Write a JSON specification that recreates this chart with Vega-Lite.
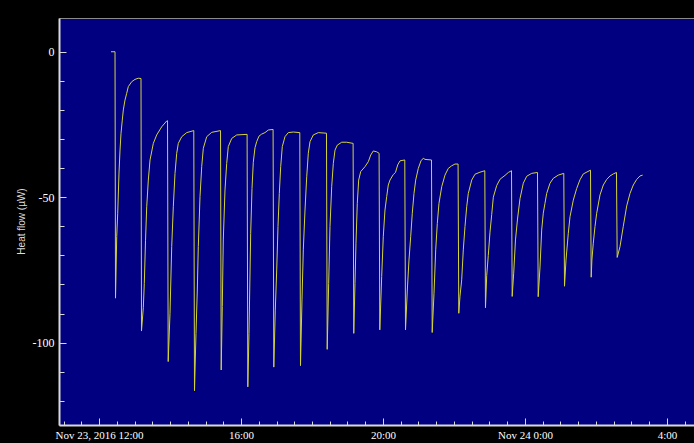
{
  "$schema": "https://vega.github.io/schema/vega-lite/v6.json",
  "width": 635,
  "height": 407,
  "autosize": {"type": "none"},
  "padding": {"left": 59, "top": 18, "right": 0, "bottom": 18},
  "background": "#000000",
  "config": {"view": {"fill": "#000080", "stroke": "#8a8a8a", "strokeWidth": 1}},
  "data": {"values": [
    {"hour": 12.338, "heat_flow": 0}, {"hour": 12.451, "heat_flow": 0}, {"hour": 12.465, "heat_flow": -84.7}, {"hour": 12.499, "heat_flow": -63.5}, {"hour": 12.527, "heat_flow": -55.5}, {"hour": 12.563, "heat_flow": -41.7}, {"hour": 12.592, "heat_flow": -33.8}, {"hour": 12.620, "heat_flow": -28}, {"hour": 12.656, "heat_flow": -23.5}, {"hour": 12.685, "heat_flow": -20}, {"hour": 12.732, "heat_flow": -16.6}, {"hour": 12.780, "heat_flow": -14.3}, {"hour": 12.825, "heat_flow": -12}, {"hour": 12.921, "heat_flow": -10.3}, {"hour": 13.014, "heat_flow": -9.5}, {"hour": 13.107, "heat_flow": -9.1}, {"hour": 13.183, "heat_flow": -9.2},
    {"hour": 13.197, "heat_flow": -96}, {"hour": 13.248, "heat_flow": -88}, {"hour": 13.276, "heat_flow": -79.6}, {"hour": 13.310, "heat_flow": -65}, {"hour": 13.344, "heat_flow": -53.3}, {"hour": 13.389, "heat_flow": -44.1}, {"hour": 13.437, "heat_flow": -37.2}, {"hour": 13.530, "heat_flow": -31.5}, {"hour": 13.625, "heat_flow": -28.6}, {"hour": 13.766, "heat_flow": -25.8}, {"hour": 13.907, "heat_flow": -23.8}, {"hour": 13.930, "heat_flow": -23.7},
    {"hour": 13.949, "heat_flow": -106.5}, {"hour": 14.000, "heat_flow": -89.9}, {"hour": 14.048, "heat_flow": -67}, {"hour": 14.093, "heat_flow": -53.3}, {"hour": 14.141, "heat_flow": -41.8}, {"hour": 14.189, "heat_flow": -34.9}, {"hour": 14.234, "heat_flow": -31.5}, {"hour": 14.330, "heat_flow": -29.2}, {"hour": 14.470, "heat_flow": -27.8}, {"hour": 14.670, "heat_flow": -27.1},
    {"hour": 14.690, "heat_flow": -116.5}, {"hour": 14.732, "heat_flow": -96.8}, {"hour": 14.769, "heat_flow": -81.9}, {"hour": 14.797, "heat_flow": -67}, {"hour": 14.845, "heat_flow": -49.8}, {"hour": 14.893, "heat_flow": -39.5}, {"hour": 14.938, "heat_flow": -33.2}, {"hour": 15.034, "heat_flow": -29.2}, {"hour": 15.175, "heat_flow": -27.7}, {"hour": 15.423, "heat_flow": -27.1},
    {"hour": 15.442, "heat_flow": -109.4}, {"hour": 15.473, "heat_flow": -87.6}, {"hour": 15.501, "heat_flow": -64.7}, {"hour": 15.549, "heat_flow": -47.5}, {"hour": 15.597, "heat_flow": -38.4}, {"hour": 15.642, "heat_flow": -32.6}, {"hour": 15.738, "heat_flow": -29.8}, {"hour": 15.879, "heat_flow": -28.6}, {"hour": 16.172, "heat_flow": -28.4},
    {"hour": 16.192, "heat_flow": -115.2}, {"hour": 16.225, "heat_flow": -96.8}, {"hour": 16.273, "heat_flow": -62.4}, {"hour": 16.310, "heat_flow": -47}, {"hour": 16.346, "heat_flow": -38}, {"hour": 16.394, "heat_flow": -33}, {"hour": 16.442, "heat_flow": -30.9}, {"hour": 16.507, "heat_flow": -29}, {"hour": 16.583, "heat_flow": -28.3}, {"hour": 16.676, "heat_flow": -27.8}, {"hour": 16.769, "heat_flow": -26.9}, {"hour": 16.904, "heat_flow": -26.7},
    {"hour": 16.924, "heat_flow": -108.4}, {"hour": 16.966, "heat_flow": -88.8}, {"hour": 17.006, "heat_flow": -75}, {"hour": 17.042, "heat_flow": -60.1}, {"hour": 17.079, "heat_flow": -48.7}, {"hour": 17.118, "heat_flow": -39.5}, {"hour": 17.163, "heat_flow": -32.6}, {"hour": 17.239, "heat_flow": -29.2}, {"hour": 17.332, "heat_flow": -27.8}, {"hour": 17.473, "heat_flow": -27.6}, {"hour": 17.656, "heat_flow": -27.8},
    {"hour": 17.676, "heat_flow": -107.9}, {"hour": 17.718, "heat_flow": -85.3}, {"hour": 17.755, "heat_flow": -68.1}, {"hour": 17.803, "heat_flow": -54.4}, {"hour": 17.851, "heat_flow": -43}, {"hour": 17.896, "heat_flow": -34.9}, {"hour": 17.944, "heat_flow": -30.9}, {"hour": 18.037, "heat_flow": -28.6}, {"hour": 18.177, "heat_flow": -27.8}, {"hour": 18.408, "heat_flow": -28},
    {"hour": 18.428, "heat_flow": -102.3}, {"hour": 18.470, "heat_flow": -79.6}, {"hour": 18.507, "heat_flow": -60.1}, {"hour": 18.555, "heat_flow": -46.4}, {"hour": 18.600, "heat_flow": -38.4}, {"hour": 18.648, "heat_flow": -33.8}, {"hour": 18.713, "heat_flow": -32.1}, {"hour": 18.837, "heat_flow": -31.1}, {"hour": 18.977, "heat_flow": -31.1}, {"hour": 19.158, "heat_flow": -31.5},
    {"hour": 19.177, "heat_flow": -96.8}, {"hour": 19.211, "heat_flow": -79.6}, {"hour": 19.239, "heat_flow": -65.8}, {"hour": 19.276, "heat_flow": -52.1}, {"hour": 19.315, "heat_flow": -44.1}, {"hour": 19.372, "heat_flow": -41.2}, {"hour": 19.493, "heat_flow": -39.5}, {"hour": 19.586, "heat_flow": -37.8}, {"hour": 19.654, "heat_flow": -35.5}, {"hour": 19.727, "heat_flow": -34.1}, {"hour": 19.823, "heat_flow": -34.4}, {"hour": 19.890, "heat_flow": -34.9},
    {"hour": 19.910, "heat_flow": -95.6}, {"hour": 19.963, "heat_flow": -77.3}, {"hour": 20.008, "heat_flow": -63.6}, {"hour": 20.056, "heat_flow": -54.4}, {"hour": 20.104, "heat_flow": -49.8}, {"hour": 20.149, "heat_flow": -45.8}, {"hour": 20.197, "heat_flow": -44.1}, {"hour": 20.290, "heat_flow": -42.2}, {"hour": 20.352, "heat_flow": -41.5}, {"hour": 20.414, "heat_flow": -38.9}, {"hour": 20.479, "heat_flow": -37.5}, {"hour": 20.614, "heat_flow": -37.2},
    {"hour": 20.634, "heat_flow": -95.6}, {"hour": 20.685, "heat_flow": -81.9}, {"hour": 20.732, "heat_flow": -71.6}, {"hour": 20.780, "heat_flow": -63.6}, {"hour": 20.825, "heat_flow": -55.5}, {"hour": 20.873, "heat_flow": -48.7}, {"hour": 20.921, "heat_flow": -44.1}, {"hour": 20.994, "heat_flow": -40.1}, {"hour": 21.070, "heat_flow": -37.5}, {"hour": 21.135, "heat_flow": -36.6}, {"hour": 21.183, "heat_flow": -37}, {"hour": 21.366, "heat_flow": -37.2},
    {"hour": 21.386, "heat_flow": -96.5}, {"hour": 21.437, "heat_flow": -83}, {"hour": 21.485, "heat_flow": -68.1}, {"hour": 21.530, "heat_flow": -59}, {"hour": 21.577, "heat_flow": -52.1}, {"hour": 21.654, "heat_flow": -46.4}, {"hour": 21.746, "heat_flow": -42.4}, {"hour": 21.839, "heat_flow": -40.1}, {"hour": 21.935, "heat_flow": -39.2}, {"hour": 22.028, "heat_flow": -38.6}, {"hour": 22.115, "heat_flow": -38.6},
    {"hour": 22.135, "heat_flow": -89.9}, {"hour": 22.169, "heat_flow": -84}, {"hour": 22.217, "heat_flow": -78.4}, {"hour": 22.262, "heat_flow": -68.1}, {"hour": 22.310, "heat_flow": -60.1}, {"hour": 22.358, "heat_flow": -53.3}, {"hour": 22.403, "heat_flow": -48.7}, {"hour": 22.499, "heat_flow": -44.1}, {"hour": 22.592, "heat_flow": -42.1}, {"hour": 22.732, "heat_flow": -41.4}, {"hour": 22.868, "heat_flow": -40.9},
    {"hour": 22.887, "heat_flow": -88}, {"hour": 22.921, "heat_flow": -77}, {"hour": 22.966, "heat_flow": -70}, {"hour": 23.014, "heat_flow": -62}, {"hour": 23.062, "heat_flow": -56}, {"hour": 23.108, "heat_flow": -50}, {"hour": 23.203, "heat_flow": -46}, {"hour": 23.299, "heat_flow": -43.8}, {"hour": 23.437, "heat_flow": -42.5}, {"hour": 23.530, "heat_flow": -41.5}, {"hour": 23.620, "heat_flow": -40.9},
    {"hour": 23.639, "heat_flow": -84.1}, {"hour": 23.682, "heat_flow": -76.1}, {"hour": 23.732, "heat_flow": -64.7}, {"hour": 23.789, "heat_flow": -57.5}, {"hour": 23.859, "heat_flow": -50.5}, {"hour": 23.952, "heat_flow": -45.2}, {"hour": 24.048, "heat_flow": -42.8}, {"hour": 24.189, "heat_flow": -41.8}, {"hour": 24.352, "heat_flow": -41.5},
    {"hour": 24.372, "heat_flow": -84.2}, {"hour": 24.423, "heat_flow": -74}, {"hour": 24.470, "heat_flow": -61.3}, {"hour": 24.515, "heat_flow": -55.5}, {"hour": 24.563, "heat_flow": -52.1}, {"hour": 24.611, "heat_flow": -48.7}, {"hour": 24.704, "heat_flow": -45.2}, {"hour": 24.797, "heat_flow": -43.5}, {"hour": 24.938, "heat_flow": -42.4}, {"hour": 25.093, "heat_flow": -41.8},
    {"hour": 25.113, "heat_flow": -80.6}, {"hour": 25.155, "heat_flow": -71.6}, {"hour": 25.220, "heat_flow": -62.4}, {"hour": 25.268, "heat_flow": -56.7}, {"hour": 25.361, "heat_flow": -51}, {"hour": 25.456, "heat_flow": -47}, {"hour": 25.549, "heat_flow": -44}, {"hour": 25.642, "heat_flow": -42}, {"hour": 25.845, "heat_flow": -40.7},
    {"hour": 25.865, "heat_flow": -77.5}, {"hour": 25.885, "heat_flow": -71.6}, {"hour": 25.924, "heat_flow": -65.8}, {"hour": 25.972, "heat_flow": -60.1}, {"hour": 26.020, "heat_flow": -55.5}, {"hour": 26.113, "heat_flow": -49.2}, {"hour": 26.206, "heat_flow": -45.8}, {"hour": 26.301, "heat_flow": -43.9}, {"hour": 26.394, "heat_flow": -42.7}, {"hour": 26.487, "heat_flow": -42}, {"hour": 26.577, "heat_flow": -41.5},
    {"hour": 26.597, "heat_flow": -70.7}, {"hour": 26.676, "heat_flow": -67}, {"hour": 26.769, "heat_flow": -60}, {"hour": 26.865, "heat_flow": -53}, {"hour": 26.958, "heat_flow": -48.7}, {"hour": 27.051, "heat_flow": -45.8}, {"hour": 27.146, "heat_flow": -43.9}, {"hour": 27.239, "heat_flow": -42.7}, {"hour": 27.315, "heat_flow": -42.4}
  ]},
  "mark": {"type": "line", "color": "#d4d43c", "strokeWidth": 1},
  "encoding": {
    "x": {
      "field": "hour",
      "type": "quantitative",
      "scale": {"domain": [10.873, 28.761], "nice": false, "zero": false},
      "axis": {
        "title": null,
        "values": [11, 11.5, 12, 12.5, 13, 13.5, 14, 14.5, 15, 15.5, 16, 16.5, 17, 17.5, 18, 18.5, 19, 19.5, 20, 20.5, 21, 21.5, 22, 22.5, 23, 23.5, 24, 24.5, 25, 25.5, 26, 26.5, 27, 27.5, 28, 28.5],
        "labelExpr": "datum.value == 12 ? 'Nov 23, 2016 12:00' : datum.value == 24 ? 'Nov 24 0:00' : (datum.value % 4 == 0 ? (datum.value % 24) + ':00' : '')",
        "labelOverlap": false,
        "labelFlush": false,
        "labelFont": "Liberation Serif",
        "labelFontSize": 11,
        "labelColor": "#ffffff",
        "labelPadding": 11,
        "domainColor": "#d8d8d8",
        "domainWidth": 2,
        "tickColor": "#d8d8d8",
        "tickWidth": 1,
        "tickSize": {"condition": {"test": "datum.value % 4 == 0", "value": -7}, "value": -4},
        "grid": false
      }
    },
    "y": {
      "field": "heat_flow",
      "type": "quantitative",
      "scale": {"domain": [-128.3, 11.6], "nice": false, "zero": false},
      "axis": {
        "title": "Heat flow (µW)",
        "values": [-120, -110, -100, -90, -80, -70, -60, -50, -40, -30, -20, -10, 0],
        "labelExpr": "datum.value % 50 == 0 ? datum.value : ''",
        "labelOverlap": false,
        "labelFlush": false,
        "labelFont": "Liberation Serif",
        "labelFontSize": 12,
        "labelColor": "#ffffff",
        "labelPadding": 12,
        "domainColor": "#d8d8d8",
        "domainWidth": 2,
        "tickColor": "#d8d8d8",
        "tickWidth": 1,
        "tickSize": {"condition": {"test": "datum.value % 50 == 0", "value": -7}, "value": -5},
        "grid": false,
        "titleFont": "Liberation Sans",
        "titleFontSize": 10,
        "titleFontWeight": "normal",
        "titleColor": "#dcdcdc",
        "titleX": -38,
        "titleY": 203,
        "titleAngle": 270,
        "titleAlign": "center",
        "titleBaseline": "middle"
      }
    }
  }
}
